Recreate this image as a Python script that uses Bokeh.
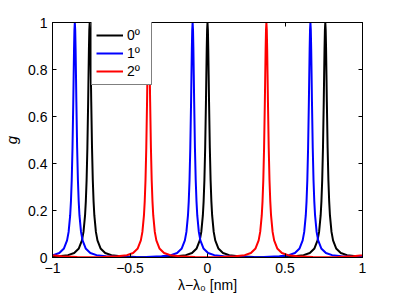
from bokeh.plotting import figure
from bokeh.models import Range1d, FixedTicker, LinearAxis, Legend, LegendItem
from bokeh.embed import file_html
from bokeh.resources import INLINE

# ---- data ----
x_ticks = [-1, -0.5, 0, 0.5, 1]
x_tick_labels = ["\u22121", "\u22120.5", "0", "0.5", "1"]
y_ticks = [0, 0.2, 0.4, 0.6, 0.8, 1]
y_tick_labels = ["0", "0.2", "0.4", "0.6", "0.8", "1"]

series_names = ["0\u00ba", "1\u00ba", "2\u00ba"]
series_colors = ["#000000", "#0000ff", "#ff0000"]

# resonance peak centres (nm) for each order
peaks_0 = [-0.76, 0.0, 0.76]
peaks_1 = [-1.616, -0.856, -0.096, 0.664, 1.424]
peaks_2 = [-1.14, -0.38, 0.38, 1.14]

# shape of one resonance: offset from centre and height
profile_offset = [-0.38, -0.3, -0.2, -0.14, -0.1, -0.07, -0.05, -0.04, -0.03,
                  -0.025, -0.02, -0.015, -0.01, -0.0075, -0.005, -0.0025, 0.0,
                  0.0025, 0.005, 0.0075, 0.01, 0.015, 0.02, 0.025, 0.03, 0.04,
                  0.05, 0.07, 0.1, 0.14, 0.2, 0.3, 0.38]
profile_height = [0.0014, 0.0022, 0.0049, 0.0099, 0.0192, 0.0385, 0.0727, 0.109, 0.179,
                  0.239, 0.329, 0.466, 0.662, 0.777, 0.887, 0.969, 1.0,
                  0.969, 0.887, 0.777, 0.662, 0.466, 0.329, 0.239, 0.179, 0.109,
                  0.0727, 0.0385, 0.0192, 0.0099, 0.0049, 0.0022, 0.0014]


def build(centres):
    xs, ys = [], []
    for c in centres:
        for o, h in zip(profile_offset, profile_height):
            xs.append(c + o)
            ys.append(h)
    return xs, ys


FONT = "Liberation Sans"

p = figure(width=399, height=300, output_backend="svg", toolbar_location=None,
           x_range=Range1d(-1, 1), y_range=Range1d(0, 1),
           min_border_left=52, min_border_right=37, min_border_top=22,
           min_border_bottom=43)
p.background_fill_color = "white"
p.border_fill_color = "white"
p.outline_line_color = "black"
p.outline_line_width = 1
p.xgrid.visible = False
p.ygrid.visible = False

renderers = []
for centres, col in zip([peaks_0, peaks_1, peaks_2], series_colors):
    xs, ys = build(centres)
    r = p.line(xs, ys, line_color=col, line_width=2)
    renderers.append(r)


def style_axis(ax, labels=True):
    ax.major_tick_in = 4
    ax.major_tick_out = 0
    ax.minor_tick_line_color = None
    ax.axis_line_color = "black"
    ax.major_tick_line_color = "black"
    ax.major_label_text_font = FONT
    ax.major_label_text_font_size = "14px"
    ax.major_label_text_color = "black"
    if not labels:
        ax.major_label_standoff = 0


xa = p.xaxis[0]
ya = p.yaxis[0]
xa.ticker = FixedTicker(ticks=x_ticks)
xa.major_label_overrides = dict(zip(x_ticks, x_tick_labels))
ya.ticker = FixedTicker(ticks=y_ticks)
ya.major_label_overrides = dict(zip(y_ticks, y_tick_labels))
style_axis(xa)
style_axis(ya)
xa.major_label_standoff = 5
ya.major_label_standoff = 5
xa.axis_label = "\u03bb\u2212\u03bb\u2080 [nm]"
xa.axis_label_text_font = FONT
xa.axis_label_text_font_style = "normal"
xa.axis_label_text_font_size = "14px"
xa.axis_label_text_color = "black"
xa.axis_label_standoff = 1
ya.axis_label = "g"
ya.axis_label_text_font = FONT
ya.axis_label_text_font_style = "italic"
ya.axis_label_text_font_size = "15px"
ya.axis_label_text_color = "black"
ya.axis_label_standoff = 5

top = LinearAxis(ticker=FixedTicker(ticks=x_ticks),
                 major_label_overrides={t: "" for t in x_ticks})
right = LinearAxis(ticker=FixedTicker(ticks=y_ticks),
                   major_label_overrides={t: "" for t in y_ticks})
style_axis(top, labels=False)
style_axis(right, labels=False)
p.add_layout(top, "above")
p.add_layout(right, "right")

legend = Legend(items=[LegendItem(label=n, renderers=[r]) for n, r in zip(series_names, renderers)],
                location=(39, 172), orientation="vertical",
                label_text_font=FONT, label_text_font_size="14px",
                label_text_color="black",
                glyph_width=27, glyph_height=18, label_height=18, label_standoff=4,
                padding=4, spacing=0, margin=0,
                border_line_color="black", border_line_width=1,
                background_fill_color="white", background_fill_alpha=1.0)
p.add_layout(legend, "center")

open("out.html", "w").write(file_html(p, INLINE))
